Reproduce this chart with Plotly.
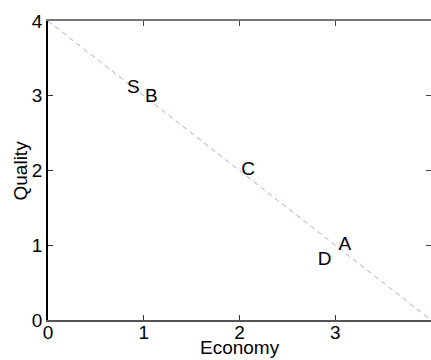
import plotly.graph_objects as go

labels = ["S", "B", "C", "D", "A"]
label_x = [0.89, 1.08, 2.09, 2.89, 3.10]
label_y = [3.10, 2.98, 2.0, 0.80, 1.0]
line_x = [0, 4]
line_y = [4, 0]
ticks = [0, 1, 2, 3, 4]

font = dict(family="Liberation Sans, Arial", size=19, color="black")

fig = go.Figure()
fig.add_trace(go.Scatter(x=line_x, y=line_y, mode="lines",
                         line=dict(color="#a4aaf2", width=1, dash="5px,4px"),
                         hoverinfo="skip", showlegend=False))
fig.add_trace(go.Scatter(x=label_x, y=label_y, mode="text", text=labels,
                         textposition="middle center", textfont=font,
                         showlegend=False))
fig.add_trace(go.Scatter(x=line_x, y=line_y, xaxis="x2", yaxis="y2",
                         mode="lines", line=dict(width=0), opacity=0,
                         hoverinfo="skip", showlegend=False))

axcommon = dict(range=[0, 4], tickvals=ticks, ticks="inside", ticklen=5,
                showgrid=False, zeroline=False, showline=True, linewidth=1.5,
                tickfont=font, automargin=False)
fig.update_layout(
    width=431, height=360,
    margin=dict(l=48, r=0, t=21, b=40),
    paper_bgcolor="white", plot_bgcolor="white",
    xaxis=dict(**axcommon, linecolor="#555", tickcolor="#333",
               ticklabelstandoff=-6),
    yaxis=dict(**axcommon, linecolor="black", tickcolor="#333"),
    xaxis2=dict(range=[0, 4], tickvals=ticks, ticks="inside", ticklen=5,
                showticklabels=False, showgrid=False, zeroline=False,
                showline=True, linewidth=1.5, linecolor="#777",
                overlaying="x", side="top", anchor="y2", automargin=False),
    yaxis2=dict(range=[0, 4], tickvals=ticks, ticks="inside", ticklen=5,
                showticklabels=False, showgrid=False, zeroline=False,
                showline=True, linewidth=1.5, linecolor="#777",
                overlaying="y", side="right", anchor="x2", automargin=False),
    annotations=[
        dict(text="Economy", xref="paper", yref="paper", x=0.5, y=0,
             yshift=-27, yanchor="middle", showarrow=False, font=font),
        dict(text="Quality", xref="paper", yref="paper", x=0, y=0.5,
             xshift=-28, xanchor="center", textangle=-90, showarrow=False,
             font=font),
    ],
)
fig.write_html(
    "out.html",
    config={"displayModeBar": False},
    post_script="document.body.style.margin='0';document.body.style.overflow='hidden';",
)
